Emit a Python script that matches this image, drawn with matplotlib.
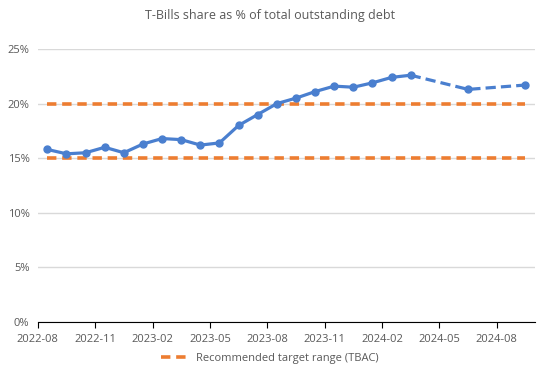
import numpy as np
import matplotlib
matplotlib.use("Agg")
from matplotlib import pyplot as plt
from matplotlib.lines import Line2D

# monthly readings, last two are projections
months = ["2022-08", "2022-09", "2022-10", "2022-11", "2022-12",
          "2023-01", "2023-02", "2023-03", "2023-04", "2023-05",
          "2023-06", "2023-07", "2023-08", "2023-09", "2023-10",
          "2023-11", "2023-12", "2024-01", "2024-02", "2024-03",
          "2024-06", "2024-09"]
share = [15.8, 15.4, 15.5, 16.0, 15.5,
         16.3, 16.8, 16.7, 16.2, 16.4,
         18.0, 19.0, 20.0, 20.5, 21.1,
         21.6, 21.5, 21.9, 22.4, 22.6,
         21.3, 21.7]
n_actual = 20
target_low = 15
target_high = 20
tick_labels = ["2022-08", "2022-11", "2023-02", "2023-05", "2023-08",
               "2023-11", "2024-02", "2024-05", "2024-08"]

def month_pos(m):
    y, mo = m.split("-")
    return (int(y) - 2022) * 12 + int(mo) - 8

x = np.array([month_pos(m) + 0.5 for m in months])
y = np.array(share)

blue = "#4A7FCF"
orange = "#ED7D31"
grey = "#595959"

plt.rcParams["font.family"] = ["Open Sans", "DejaVu Sans"]
fig = plt.figure(figsize=(5.4, 3.67), dpi=100)
ax = fig.add_axes([37.8 / 540, 45 / 367, (535 - 37.8) / 540, (322 - 49) / 367])

ax.hlines([target_low, target_high], x[0], x[-1], colors=orange,
          linestyles=(0, (2.6, 1.6)), linewidth=2.6, zorder=2)
ax.plot(x[:n_actual], y[:n_actual], color=blue, lw=2.3, marker="o",
        ms=5, zorder=3)
ax.plot(x[n_actual - 1:], y[n_actual - 1:], color=blue, lw=2.3,
        ls=(0, (3.2, 1.6)), marker="o", ms=5, markevery=[1, 2], zorder=3)

ax.set_xlim(0, 26)
ax.set_ylim(0, 25)
ax.set_yticks(range(0, 26, 5))
ax.set_yticklabels([f"{v}%" for v in range(0, 26, 5)])
ax.set_xticks([month_pos(t) for t in tick_labels])
ax.set_xticklabels(tick_labels)
ax.grid(axis="y", color="#D9D9D9", lw=1)
ax.set_axisbelow(True)
for s in ["top", "right", "left"]:
    ax.spines[s].set_visible(False)
ax.spines["bottom"].set_color("#000000")
ax.tick_params(axis="y", length=0, labelsize=8, colors=grey, pad=6)
ax.tick_params(axis="x", length=4, labelsize=8, colors=grey, pad=5,
               color="#000000")

fig.text(0.5, 1 - 15 / 367, "T-Bills share as % of total outstanding debt",
         ha="center", va="center", fontsize=9, color=grey)

handle = Line2D([], [], color=orange, lw=2.6, ls=(0, (2.6, 1.6)))
fig.legend([handle], ["Recommended target range (TBAC)"], loc="center",
           bbox_to_anchor=(0.5, 1 - 358 / 367), frameon=False, fontsize=8,
           labelcolor=grey, handlelength=2.5, handletextpad=0.6)

fig.savefig("out.png", dpi=100)
